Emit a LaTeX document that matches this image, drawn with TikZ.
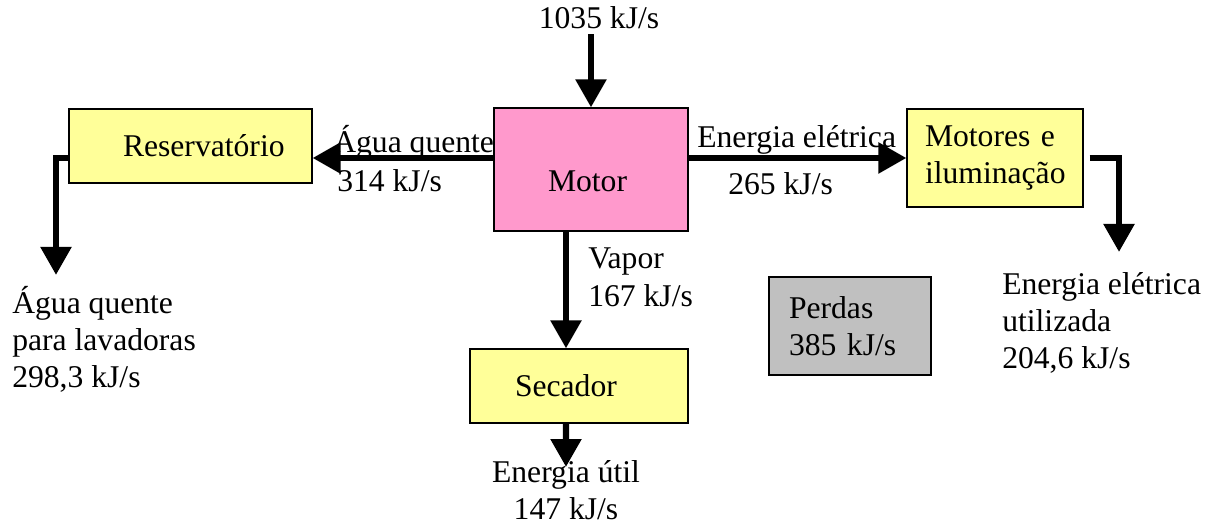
\documentclass[tikz,border=0pt]{standalone}
\usepackage{fontspec}
\setmainfont{Liberation Serif}
\definecolor{paleyellow}{HTML}{FFFF99}
\definecolor{pinkbox}{HTML}{FF99CC}
\definecolor{greybox}{HTML}{C0C0C0}
\usetikzlibrary{arrows.meta, calc}

\begin{document}
\begin{tikzpicture}[
  font=\fontsize{22.5}{26.5}\selectfont,
  block/.style={draw=black, line width=0.8pt, fill=paleyellow,
                align=left, inner sep=0pt},
  tag/.style={inner sep=0pt, align=left},
  flow/.style={-{Triangle[length=0.7cm, width=0.74cm]}, line width=4.6pt},
]
\useasboundingbox (0,0) rectangle (30.75,-13.175);

% blocks
\node[block, minimum width=6.075cm, minimum height=1.85cm, text width=3.375cm] (res) at (4.7625,-3.65) {Reservatório};
\node[block, fill=pinkbox, minimum width=4.85cm, minimum height=3.075cm, text width=2.15cm,
      text height=1.1cm, text depth=0pt] (motor) at (14.775,-4.2375) {Motor};
\node[block, minimum width=4.4cm, minimum height=2.45cm, text width=3.5cm] (mot) at (24.875,-3.95) {Motores e\\iluminação};
\node[block, minimum width=5.45cm, minimum height=1.85cm, text width=3.2cm] (dry) at (14.475,-9.65) {Secador};
\node[block, fill=greybox, minimum width=4.05cm, minimum height=2.45cm, text width=3.05cm] (loss) at (21.25,-8.15) {Perdas\\385 kJ/s};

% flow labels
\node (feed) at (14.975,-0.45) {1035 kJ/s};
\node[tag, anchor=base west] (hotname) at (8.325,-3.825) {Água quente};
\node[tag, anchor=base west] (hotval) at (8.425,-4.8) {314 kJ/s};
\node[tag, anchor=base west] (elecname) at (17.425,-3.7) {Energia elétrica};
\node[tag, anchor=base west] (elecval) at (18.2,-4.875) {265 kJ/s};
\node[tag, anchor=north west] (steamval) at (14.7,-6.2) {Vapor\\167 kJ/s};
\node[tag, anchor=north west] (wash) at (0.3,-7.15) {Água quente\\para lavadoras\\298,3 kJ/s};
\node[tag, anchor=north west] (used) at (25.05,-6.8) {Energia elétrica\\utilizada\\204,6 kJ/s};
\node[tag, anchor=north, align=center] (useful) at (14.15,-11.5) {Energia útil\\147 kJ/s};

% arrow ends
\coordinate (hot) at (motor.west |- mot.west);
\coordinate (washin) at (1.4,-6.875);
\coordinate (elecout) at (27.975,-6.3);
\coordinate (steam) at ([xshift=-3.25mm]dry.north);
\coordinate (dryout) at (14.15,-11.675);

\draw[flow] (motor.north |- feed.south) -- (motor.north);
\draw[flow] (hot) -- (hot -| res.east);
\draw[flow] (hot -| res.west) -| (washin);
\draw[flow] (motor.east |- mot.west) -- (mot.west);
\draw[flow] ([xshift=1.5mm]mot.east) -| (elecout);
\draw[flow] (steam |- motor.south) -- (steam);
\draw[flow] (steam |- dry.south) -- (dryout);
\end{tikzpicture}
\end{document}
